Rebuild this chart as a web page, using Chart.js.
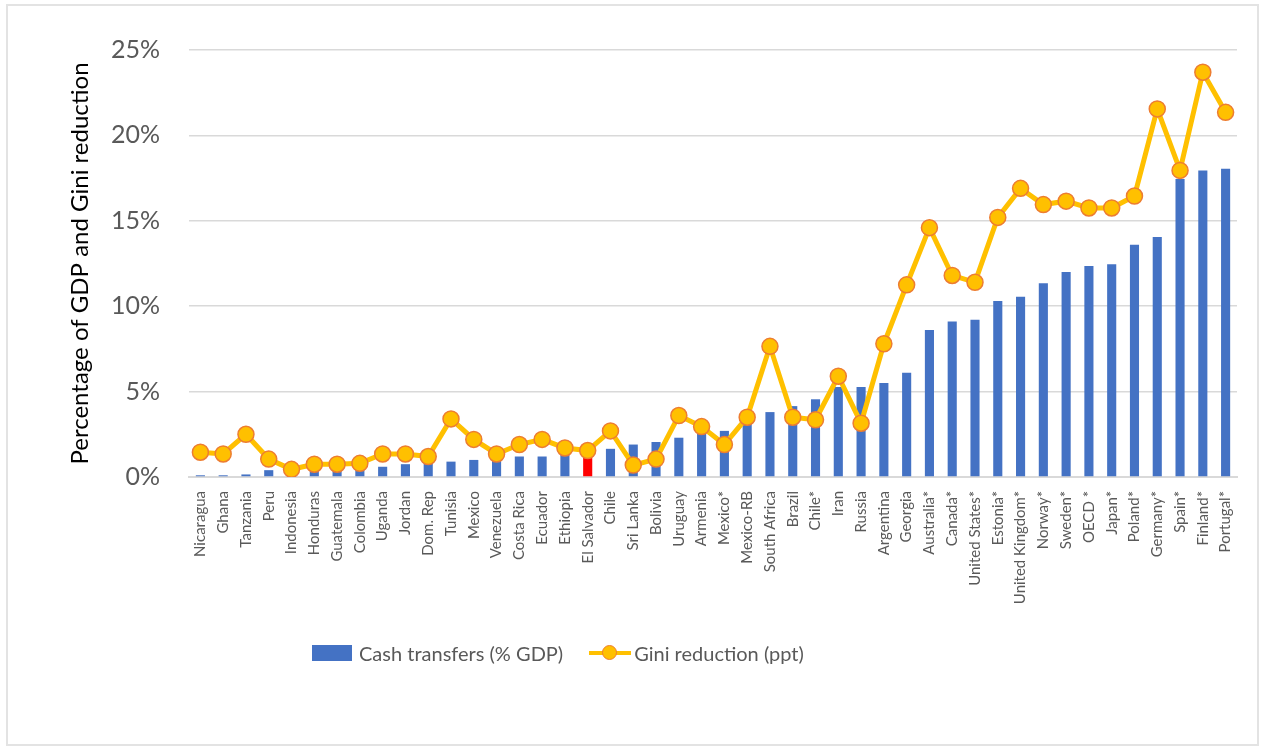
<!DOCTYPE html>
<html>
<head>
<meta charset="utf-8">
<script src="https://cdn.jsdelivr.net/npm/chart.js@4"></script>
<style>
  body { margin: 0; background: #fff; }
  .wrap { position: relative; width: 1262px; height: 747px; }
  .frame { position: absolute; left: 6px; top: 4px; right: 3px; bottom: 1px; border: 2px solid #e3e3e3; pointer-events: none; }
  canvas { position: absolute; left: 0; top: 0; }
  .legend { position: absolute; top: 641px; left: 312px; display: flex; align-items: center; font-family: Lato, 'Open Sans', sans-serif; font-size: 20px; color: #595959; }
  .legend .item { display: flex; align-items: center; }
  .swatch-bar { width: 40px; height: 16px; background: #4472C4; margin-right: 7px; }
  .swatch-line { position: relative; width: 42px; height: 16px; margin-right: 3px; }
  .swatch-line::before { content: ''; position: absolute; left: 0; right: 0; top: 6px; height: 4px; background: #FFC000; }
  .swatch-line::after { content: ''; position: absolute; left: 13px; top: 0; width: 13px; height: 13px; border-radius: 50%; background: #FFC000; border: 1.5px solid #ED7D31; }
</style>
</head>
<body>
<div class="wrap">
  <canvas id="chart" width="1262" height="747"></canvas>
  <div class="frame"></div>
  <div class="legend">
    <div class="item" style="margin-right:26px"><span class="swatch-bar"></span>Cash transfers (% GDP)</div>
    <div class="item"><span class="swatch-line"></span>Gini reduction (ppt)</div>
  </div>
</div>
<script>
// countries, left to right
var countries = ['Nicaragua', 'Ghana', 'Tanzania', 'Peru', 'Indonesia', 'Honduras', 'Guatemala', 'Colombia',
  'Uganda', 'Jordan', 'Dom. Rep', 'Tunisia', 'Mexico', 'Venezuela', 'Costa Rica', 'Ecuador', 'Ethiopia',
  'El Salvador', 'Chile', 'Sri Lanka', 'Bolivia', 'Uruguay', 'Armenia', 'Mexico*', 'Mexico-RB',
  'South Africa', 'Brazil', 'Chile*', 'Iran', 'Russia', 'Argentina', 'Georgia', 'Australia*', 'Canada*',
  'United States*', 'Estonia*', 'United Kingdom*', 'Norway*', 'Sweden*', 'OECD *', 'Japan*', 'Poland*',
  'Germany*', 'Spain*', 'Finland*', 'Portugal*']

// cash transfers, % of GDP
var cashTransfers = [0.1, 0.1, 0.15, 0.4, 0.3, 0.5, 0.5, 0.5,
  0.6, 0.75, 0.9, 0.9, 1.0, 1.1, 1.2, 1.2, 1.4,
  1.2, 1.65, 1.9, 2.05, 2.3, 2.6, 2.7, 3.15,
  3.8, 4.15, 4.55, 5.27, 5.27, 5.5, 6.1, 8.6, 9.1,
  9.2, 10.3, 10.55, 11.35, 12.0, 12.35, 12.45, 13.6,
  14.05, 17.45, 17.95, 18.05]

// gini reduction, ppt
var giniReduction = [1.45, 1.35, 2.5, 1.05, 0.45, 0.75, 0.75, 0.8,
  1.35, 1.35, 1.2, 3.4, 2.2, 1.35, 1.9, 2.2, 1.7,
  1.55, 2.7, 0.7, 1.05, 3.6, 2.95, 1.9, 3.5,
  7.65, 3.5, 3.35, 5.9, 3.15, 7.8, 11.25, 14.6, 11.8,
  11.4, 15.2, 16.9, 15.95, 16.15, 15.75, 15.75, 16.45,
  21.55, 17.95, 23.7, 21.35]

var yTicks = [0, 5, 10, 15, 20, 25]

var highlight = 'El Salvador'
var barColors = countries.map(function (c) {
  return c === highlight ? '#FF0000' : '#4472C4'
})

var font = "Lato, 'Open Sans', sans-serif"

var ctx = document.getElementById('chart').getContext('2d')
var chart = new Chart(ctx, {
  data: {
    labels: countries,
    datasets: [
      {
        type: 'line',
        label: 'Gini reduction (ppt)',
        data: giniReduction,
        borderColor: '#FFC000',
        borderWidth: 5,
        pointRadius: 8,
        pointBackgroundColor: '#FFC000',
        pointBorderColor: '#ED7D31',
        pointBorderWidth: 1.5,
        tension: 0,
        order: 0,
      },
      {
        type: 'bar',
        label: 'Cash transfers (% GDP)',
        data: cashTransfers,
        backgroundColor: barColors,
        barPercentage: 0.4,
        categoryPercentage: 1,
        order: 1,
      },
    ],
  },
  options: {
    responsive: false,
    animation: false,
    layout: { padding: { left: 66, right: 25, top: 50, bottom: 0 } },
    plugins: {
      legend: { display: false },
      tooltip: { enabled: false },
    },
    scales: {
      x: {
        grid: { display: false },
        border: { color: '#d9d9d9', width: 2 },
        ticks: {
          autoSkip: false,
          maxRotation: 90,
          minRotation: 90,
          padding: 6,
          color: '#595959',
          font: { family: font, size: 15 },
        },
        afterFit: function (scale) { scale.height = 270 },
      },
      y: {
        min: 0,
        max: 25,
        afterBuildTicks: function (scale) {
          scale.ticks = yTicks.map(function (v) { return { value: v } })
        },
        grid: { color: '#d9d9d9', lineWidth: 1.5, drawTicks: false },
        border: { display: false },
        ticks: {
          padding: 29,
          color: '#595959',
          font: { family: font, size: 25 },
          callback: function (v) { return v + '%' },
        },
        title: {
          display: true,
          text: 'Percentage of GDP and Gini reduction',
          color: '#000',
          font: { family: font, size: 24 },
          padding: { top: 0, bottom: 0 },
        },
        afterFit: function (scale) { scale.width = 123 },
      },
    },
  },
})
</script>
</body>
</html>
